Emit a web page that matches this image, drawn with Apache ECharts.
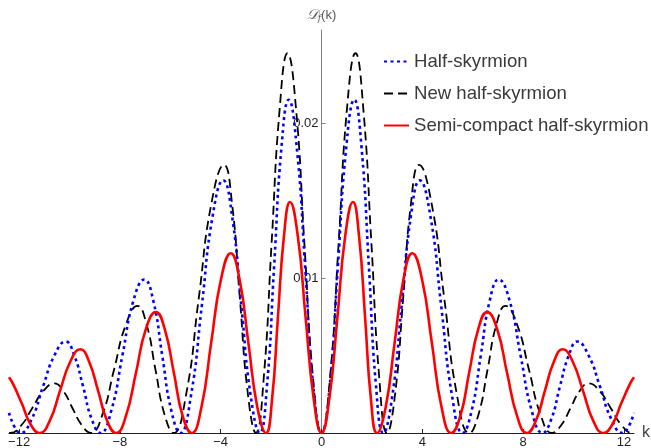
<!DOCTYPE html>
<html>
<head>
<meta charset="utf-8">
<script src="https://cdn.jsdelivr.net/npm/echarts@6/dist/echarts.min.js"></script>
<style>html,body{margin:0;padding:0;background:#fff;}#c{width:651px;height:448px;}</style>
</head>
<body>
<div id="c"></div>
<script>
// Positive half (k >= 0); the curves are symmetric in k.
var seriesNames = ['Half-skyrmion', 'New half-skyrmion', 'Semi-compact half-skyrmion'];

var kHalf = [0, 0.33, 0.65, 0.98, 1.3, 1.59, 1.88, 2.16, 2.45, 2.81, 3.18, 3.54, 3.9, 4.33, 4.75, 5.18, 5.6, 5.96, 6.32, 6.67, 7.03, 7.47, 7.9, 8.34, 8.77, 9.12, 9.46, 9.81, 10.15, 10.6, 11.05, 11.5, 11.95, 12.15, 12.4];
var vHalf = [0, 0.0031, 0.01075, 0.0184, 0.0215, 0.0184, 0.01075, 0.0031, 0, 0.0024, 0.0082, 0.0139, 0.0163, 0.0139, 0.0082, 0.0024, 0, 0.00145, 0.0050, 0.0085, 0.0099, 0.0085, 0.0050, 0.00145, 0, 0.0009, 0.0030, 0.0050, 0.0059, 0.0050, 0.0030, 0.0009, 0, 0.0003, 0.0013];

var kNew = [0, 0.34, 0.68, 1.01, 1.35, 1.66, 1.98, 2.29, 2.6, 2.92, 3.24, 3.55, 3.87, 4.37, 4.87, 5.37, 5.87, 6.23, 6.59, 6.94, 7.3, 7.76, 8.23, 8.69, 9.15, 9.51, 9.88, 10.24, 10.6, 11.04, 11.48, 11.91, 12.35, 12.4];
var vNew = [0, 0.0036, 0.01225, 0.0209, 0.0245, 0.0209, 0.01225, 0.0036, 0, 0.0025, 0.0087, 0.0148, 0.0173, 0.0148, 0.0087, 0.0025, 0, 0.0012, 0.0041, 0.0070, 0.0082, 0.0070, 0.0041, 0.0012, 0, 0.0005, 0.0016, 0.0027, 0.0032, 0.0027, 0.0016, 0.0005, 0, 0.00001];

var kSemi = [0, 0.31, 0.63, 0.94, 1.25, 1.49, 1.73, 1.96, 2.2, 2.55, 2.9, 3.25, 3.6, 3.99, 4.38, 4.76, 5.15, 5.51, 5.86, 6.22, 6.57, 6.97, 7.36, 7.76, 8.15, 8.51, 8.86, 9.22, 9.57, 9.97, 10.38, 10.78, 11.18, 11.54, 11.89, 12.25, 12.4];
var vSemi = [0, 0.0022, 0.00745, 0.0127, 0.0149, 0.0127, 0.00745, 0.0022, 0, 0.0017, 0.0058, 0.0099, 0.0116, 0.0099, 0.0058, 0.0017, 0, 0.0011, 0.0039, 0.0067, 0.0078, 0.0067, 0.0039, 0.0011, 0, 0.0008, 0.0027, 0.0046, 0.0054, 0.0046, 0.0027, 0.0008, 0, 0.00055, 0.0019, 0.0032, 0.0036];

var xTicks = [-12, -8, -4, 0, 4, 8, 12];
var yTicks = [0.01, 0.02];

function mirror(ks, vs) {
  var out = [];
  for (var i = ks.length - 1; i >= 1; i--) out.push([-ks[i], vs[i]]);
  for (var j = 0; j < ks.length; j++) out.push([ks[j], vs[j]]);
  return out;
}

var gridLeft = 9, gridWidth = 625, xMin = -12.4, xMax = 12.4;
// place the y axis at k = 0 by offsetting it inward from the grid's left edge
var yAxisOffset = -gridWidth * (0 - xMin) / (xMax - xMin);

var chart = echarts.init(document.getElementById('c'), null, {renderer: 'canvas'});
var font = 'Liberation Sans, Arial, sans-serif';
chart.setOption({
  animation: false,
  backgroundColor: '#ffffff',
  grid: {left: gridLeft, width: gridWidth, top: 30, bottom: 15, containLabel: false, outerBoundsMode: 'none'},
  legend: {
    orient: 'vertical', left: 383, top: 52, itemGap: 13,
    itemWidth: 25, itemHeight: 18, padding: 0,
    itemStyle: {opacity: 0},
    textStyle: {fontFamily: font, fontSize: 18.6, color: '#3a3a3a', lineHeight: 18},
    data: seriesNames
  },
  xAxis: {
    type: 'value', min: xMin, max: xMax,
    name: 'k', nameLocation: 'end', nameGap: 8,
    nameTextStyle: {fontFamily: font, fontSize: 16, color: '#444', verticalAlign: 'middle'},
    axisLine: {onZero: false, lineStyle: {color: '#222', width: 1}},
    axisTick: {show: true, inside: true, length: 4, customValues: xTicks, lineStyle: {color: '#222'}},
    axisLabel: {customValues: xTicks, margin: 3, fontFamily: font, fontSize: 13, color: '#222',
      formatter: function (v) { return String(v).replace('-', '\u2212'); }},
    splitLine: {show: false}
  },
  yAxis: {
    type: 'value', min: 0, max: 0.026, position: 'left', offset: yAxisOffset,
    name: '{d|\uD835\uDC9F}{s|f}{n|(k)}', nameLocation: 'end', nameGap: 7,
    nameTextStyle: {
      align: 'center',
      rich: {
        d: {fontFamily: 'DejaVu Serif, serif', fontStyle: 'italic', fontSize: 14, color: '#555'},
        s: {fontFamily: 'DejaVu Serif, serif', fontStyle: 'italic', fontSize: 9, color: '#555', verticalAlign: 'bottom', padding: [6, 0, 0, 0]},
        n: {fontFamily: font, fontSize: 13, color: '#555'}
      }
    },
    axisLine: {onZero: false, lineStyle: {color: '#808080', width: 1}},
    axisTick: {show: true, inside: true, length: 4, customValues: yTicks, lineStyle: {color: '#808080'}},
    axisLabel: {customValues: yTicks, margin: 3, fontFamily: font, fontSize: 13, color: '#222'},
    splitLine: {show: false}
  },
  series: [
    {name: seriesNames[0], type: 'line', data: mirror(kHalf, vHalf), smooth: true, symbol: 'none', z: 3,
      lineStyle: {color: '#0000ff', width: 2.6, type: [3, 3.5]}, itemStyle: {color: '#0000ff'}},
    {name: seriesNames[1], type: 'line', data: mirror(kNew, vNew), smooth: true, symbol: 'none', z: 2,
      lineStyle: {color: '#000000', width: 1.8, type: [9, 5]}, itemStyle: {color: '#000000'}},
    {name: seriesNames[2], type: 'line', data: mirror(kSemi, vSemi), smooth: true, symbol: 'none', z: 4,
      lineStyle: {color: '#ff0000', width: 2.6}, itemStyle: {color: '#ff0000'}}
  ]
});
</script>
</body>
</html>
